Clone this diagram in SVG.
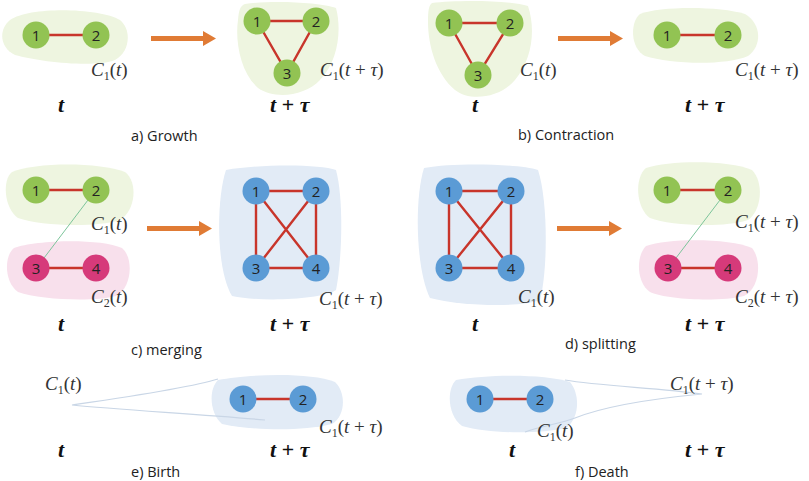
<svg xmlns="http://www.w3.org/2000/svg" width="809" height="481" viewBox="0 0 809 481">
<style>
.bg{fill:#fff}
.bg-g{fill:#EEF5E0}
.bg-b{fill:#E2EBF6}
.bg-p{fill:#F8E0EC}
.tail{fill:none;stroke:#C9D6E6;stroke-width:1.2}
.e{stroke:#C8352B;stroke-width:2.4;fill:none}
.x{stroke:#7CC49A;stroke-width:1;fill:none}
.ng{fill:#92C353}
.nb{fill:#5B9BD5}
.np{fill:#D63A7A}
.nl{font-family:"Open Sans","Liberation Sans",sans-serif;font-size:15px;fill:#222;text-anchor:middle;dominant-baseline:central}
.m{font-family:"Liberation Serif","DejaVu Serif",serif;font-size:19px;fill:#333}
.i{font-style:italic}
.s{font-size:12px;font-style:normal}
.tt{font-family:"Liberation Serif","DejaVu Serif",serif;font-size:22px;font-weight:bold;font-style:italic;fill:#111}
.cap{font-family:"Open Sans","Liberation Sans",sans-serif;font-size:14.5px;fill:#222}
.arr{fill:#E07B35}
</style>
<rect class="bg" x="0" y="0" width="809" height="481"/>

<g id="blobs">
<path class="bg-g" d="M10,20 C30,6 100,8 120,20 C132,30 130,52 115,60 C95,68 40,62 15,55 C0,48 -2,30 10,20Z"/>
<path class="bg-g" d="M245,4 C270,0 320,2 336,8 C342,30 338,62 320,80 C305,96 275,100 258,88 C240,72 235,40 238,20 C239,10 240,6 245,4Z"/>
<path class="bg-g" d="M432,3 C455,0 510,0 528,6 C536,30 532,60 515,80 C500,98 470,102 455,90 C436,74 428,45 428,22 C428,10 429,5 432,3Z"/>
<path class="bg-g" d="M640,14 C660,6 720,6 745,14 C762,24 762,46 748,56 C725,66 670,64 645,56 C630,48 630,22 640,14Z"/>
<path class="bg-g" d="M12,172 C35,162 100,162 125,172 C138,182 136,210 120,220 C95,228 40,226 18,218 C4,208 2,180 12,172Z"/>
<path class="bg-p" d="M14,248 C35,240 100,238 122,248 C134,258 132,288 116,296 C95,302 40,300 18,292 C4,282 4,256 14,248Z"/>
<path class="bg-b" d="M226,170 C260,164 320,164 336,170 C344,200 342,260 336,290 C320,300 260,302 232,296 C216,270 216,200 226,170Z"/>
<path class="bg-b" d="M424,168 C455,162 520,164 538,170 C548,200 548,270 540,300 C520,308 460,306 430,298 C416,270 414,200 424,168Z"/>
<path class="bg-g" d="M646,168 C670,160 730,160 752,170 C764,182 762,210 748,220 C725,228 670,226 650,218 C636,208 634,178 646,168Z"/>
<path class="bg-p" d="M646,246 C668,238 730,238 752,248 C762,260 760,288 744,296 C720,302 668,300 650,292 C636,282 636,256 646,246Z"/>
<path class="bg-b" d="M218,380 C250,374 310,372 335,382 C346,392 346,416 332,424 C300,432 250,430 222,424 C210,414 208,390 218,380Z"/>
<path class="bg-b" d="M456,380 C490,374 545,374 570,382 C580,394 580,418 566,428 C540,434 490,434 462,426 C448,416 446,390 456,380Z"/>
</g>

<g id="tails">
<path class="tail" d="M218,379 C190,388 120,398 72,405 C120,410 200,414 265,420"/>
<path class="tail" d="M565,380 C600,386 660,388 702,394 C660,398 610,404 575,418 C560,424 540,426 525,432"/>
</g>

<g id="connectors">
<line class="e" x1="36" y1="35" x2="96" y2="35"/>
<path class="e" d="M257,21 L316,21 L287,73 Z"/>
<path class="e" d="M449,23 L510,23 L478,75 Z"/>
<line class="e" x1="667" y1="35" x2="728" y2="35"/>
<line class="e" x1="36" y1="190" x2="96" y2="190"/>
<line class="e" x1="36" y1="268" x2="96" y2="268"/>
<line class="x" x1="88" y1="200" x2="44" y2="258"/>
<path class="e" d="M256,191 L316,191 L316,268 L256,268 Z M256,191 L316,268 M316,191 L256,268"/>
<path class="e" d="M449,191 L511,191 L511,268 L449,268 Z M449,191 L511,268 M511,191 L449,268"/>
<line class="e" x1="667" y1="190" x2="728" y2="190"/>
<line class="e" x1="668" y1="268" x2="728" y2="268"/>
<line class="x" x1="720" y1="200" x2="676" y2="258"/>
<line class="e" x1="243" y1="399" x2="303" y2="399"/>
<line class="e" x1="480" y1="399" x2="540" y2="399"/>
</g>

<g id="arrows">
<path class="arr" d="M151,36 L203,36 L203,31 L216,38.5 L203,46 L203,41 L151,41 Z"/>
<path class="arr" d="M558,36 L610,36 L610,31 L623,38.5 L610,46 L610,41 L558,41 Z"/>
<path class="arr" d="M147,226 L199,226 L199,221 L212,228.5 L199,236 L199,231 L147,231 Z"/>
<path class="arr" d="M557,226 L609,226 L609,221 L622,228.5 L609,236 L609,231 L557,231 Z"/>
</g>

<g id="a1"><circle class="ng" cx="36" cy="35" r="13.5"/><text class="nl" x="36" y="35">1</text></g>
<g id="a2"><circle class="ng" cx="96" cy="35" r="13.5"/><text class="nl" x="96" y="35">2</text></g>
<g id="a3"><circle class="ng" cx="257" cy="21" r="13.5"/><text class="nl" x="257" y="21">1</text></g>
<g id="a4"><circle class="ng" cx="316" cy="21" r="13.5"/><text class="nl" x="316" y="21">2</text></g>
<g id="a5"><circle class="ng" cx="287" cy="73" r="13.5"/><text class="nl" x="287" y="73">3</text></g>

<g id="b1"><circle class="ng" cx="449" cy="23" r="13.5"/><text class="nl" x="449" y="23">1</text></g>
<g id="b2"><circle class="ng" cx="510" cy="23" r="13.5"/><text class="nl" x="510" y="23">2</text></g>
<g id="b3"><circle class="ng" cx="478" cy="75" r="13.5"/><text class="nl" x="478" y="75">3</text></g>
<g id="b4"><circle class="ng" cx="667" cy="35" r="13.5"/><text class="nl" x="667" y="35">1</text></g>
<g id="b5"><circle class="ng" cx="728" cy="35" r="13.5"/><text class="nl" x="728" y="35">2</text></g>

<g id="c1"><circle class="ng" cx="36" cy="190" r="13.5"/><text class="nl" x="36" y="190">1</text></g>
<g id="c2"><circle class="ng" cx="96" cy="190" r="13.5"/><text class="nl" x="96" y="190">2</text></g>
<g id="c3"><circle class="np" cx="36" cy="268" r="13.5"/><text class="nl" x="36" y="268">3</text></g>
<g id="c4"><circle class="np" cx="96" cy="268" r="13.5"/><text class="nl" x="96" y="268">4</text></g>
<g id="c5"><circle class="nb" cx="256" cy="191" r="13.5"/><text class="nl" x="256" y="191">1</text></g>
<g id="c6"><circle class="nb" cx="316" cy="191" r="13.5"/><text class="nl" x="316" y="191">2</text></g>
<g id="c7"><circle class="nb" cx="256" cy="268" r="13.5"/><text class="nl" x="256" y="268">3</text></g>
<g id="c8"><circle class="nb" cx="316" cy="268" r="13.5"/><text class="nl" x="316" y="268">4</text></g>

<g id="d1"><circle class="nb" cx="449" cy="191" r="13.5"/><text class="nl" x="449" y="191">1</text></g>
<g id="d2"><circle class="nb" cx="511" cy="191" r="13.5"/><text class="nl" x="511" y="191">2</text></g>
<g id="d3"><circle class="nb" cx="449" cy="268" r="13.5"/><text class="nl" x="449" y="268">3</text></g>
<g id="d4"><circle class="nb" cx="511" cy="268" r="13.5"/><text class="nl" x="511" y="268">4</text></g>
<g id="d5"><circle class="ng" cx="667" cy="190" r="13.5"/><text class="nl" x="667" y="190">1</text></g>
<g id="d6"><circle class="ng" cx="728" cy="190" r="13.5"/><text class="nl" x="728" y="190">2</text></g>
<g id="d7"><circle class="np" cx="668" cy="268" r="13.5"/><text class="nl" x="668" y="268">3</text></g>
<g id="d8"><circle class="np" cx="728" cy="268" r="13.5"/><text class="nl" x="728" y="268">4</text></g>

<g id="e1"><circle class="nb" cx="243" cy="399" r="13.5"/><text class="nl" x="243" y="399">1</text></g>
<g id="e2"><circle class="nb" cx="303" cy="399" r="13.5"/><text class="nl" x="303" y="399">2</text></g>
<g id="f1"><circle class="nb" cx="480" cy="399" r="13.5"/><text class="nl" x="480" y="399">1</text></g>
<g id="f2"><circle class="nb" cx="540" cy="399" r="13.5"/><text class="nl" x="540" y="399">2</text></g>

<g id="labels">
<text class="m" x="91" y="76"><tspan class="i">C</tspan><tspan class="s" dy="4">1</tspan><tspan dy="-4">(</tspan><tspan class="i">t</tspan>)</text>
<text class="m" x="320" y="76"><tspan class="i">C</tspan><tspan class="s" dy="4">1</tspan><tspan dy="-4">(</tspan><tspan class="i">t</tspan> + <tspan class="i">τ</tspan>)</text>
<text class="m" x="520" y="76"><tspan class="i">C</tspan><tspan class="s" dy="4">1</tspan><tspan dy="-4">(</tspan><tspan class="i">t</tspan>)</text>
<text class="m" x="735" y="76"><tspan class="i">C</tspan><tspan class="s" dy="4">1</tspan><tspan dy="-4">(</tspan><tspan class="i">t</tspan> + <tspan class="i">τ</tspan>)</text>
<text class="m" x="91" y="230"><tspan class="i">C</tspan><tspan class="s" dy="4">1</tspan><tspan dy="-4">(</tspan><tspan class="i">t</tspan>)</text>
<text class="m" x="91" y="303"><tspan class="i">C</tspan><tspan class="s" dy="4">2</tspan><tspan dy="-4">(</tspan><tspan class="i">t</tspan>)</text>
<text class="m" x="319" y="305"><tspan class="i">C</tspan><tspan class="s" dy="4">1</tspan><tspan dy="-4">(</tspan><tspan class="i">t</tspan> + <tspan class="i">τ</tspan>)</text>
<text class="m" x="518" y="303"><tspan class="i">C</tspan><tspan class="s" dy="4">1</tspan><tspan dy="-4">(</tspan><tspan class="i">t</tspan>)</text>
<text class="m" x="735" y="228"><tspan class="i">C</tspan><tspan class="s" dy="4">1</tspan><tspan dy="-4">(</tspan><tspan class="i">t</tspan> + <tspan class="i">τ</tspan>)</text>
<text class="m" x="735" y="303"><tspan class="i">C</tspan><tspan class="s" dy="4">2</tspan><tspan dy="-4">(</tspan><tspan class="i">t</tspan> + <tspan class="i">τ</tspan>)</text>
<text class="m" x="45" y="390"><tspan class="i">C</tspan><tspan class="s" dy="4">1</tspan><tspan dy="-4">(</tspan><tspan class="i">t</tspan>)</text>
<text class="m" x="319" y="433"><tspan class="i">C</tspan><tspan class="s" dy="4">1</tspan><tspan dy="-4">(</tspan><tspan class="i">t</tspan> + <tspan class="i">τ</tspan>)</text>
<text class="m" x="670" y="390"><tspan class="i">C</tspan><tspan class="s" dy="4">1</tspan><tspan dy="-4">(</tspan><tspan class="i">t</tspan> + <tspan class="i">τ</tspan>)</text>
<text class="m" x="537" y="437"><tspan class="i">C</tspan><tspan class="s" dy="4">1</tspan><tspan dy="-4">(</tspan><tspan class="i">t</tspan>)</text>

<text class="tt" x="58" y="112">t</text>
<text class="tt" x="270" y="112">t + τ</text>
<text class="tt" x="472" y="112">t</text>
<text class="tt" x="685" y="112">t + τ</text>
<text class="tt" x="58" y="331">t</text>
<text class="tt" x="270" y="331">t + τ</text>
<text class="tt" x="472" y="331">t</text>
<text class="tt" x="685" y="331">t + τ</text>
<text class="tt" x="58" y="457">t</text>
<text class="tt" x="270" y="457">t + τ</text>
<text class="tt" x="509" y="457">t</text>
<text class="tt" x="685" y="457">t + τ</text>

<text class="cap" x="131" y="141">a) Growth</text>
<text class="cap" x="518" y="140">b) Contraction</text>
<text class="cap" x="131" y="355">c) merging</text>
<text class="cap" x="565" y="349">d) splitting</text>
<text class="cap" x="131" y="477">e) Birth</text>
<text class="cap" x="575" y="477">f) Death</text>
</g>
</svg>
